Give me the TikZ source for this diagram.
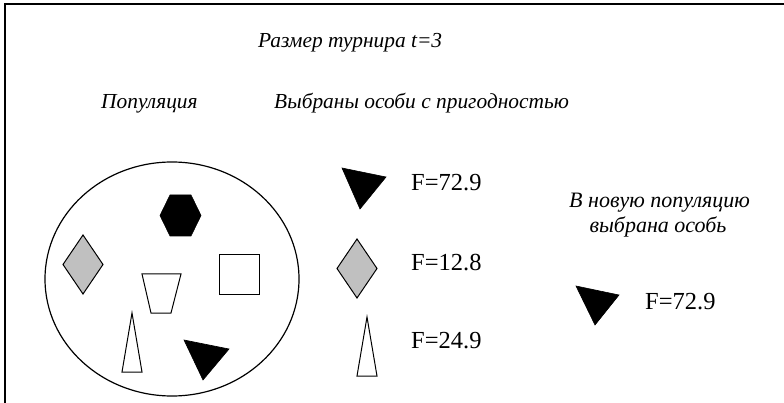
\documentclass[tikz,border=0pt]{standalone}
\usepackage{fontspec}
\setmainfont{Liberation Serif}
\definecolor{shapegray}{HTML}{C0C0C0}
\begin{document}
\begin{tikzpicture}[x=1pt,y=-1pt,
  lbl/.style={inner sep=0pt,font=\fontsize{21.4}{25}\selectfont\itshape},
  lblr/.style={inner sep=0pt,font=\fontsize{22}{25}\selectfont\itshape},
  fit/.style={inner sep=0pt,font=\fontsize{24.5}{28}\selectfont},
  outl/.style={draw=black,line width=1pt,line join=miter},
  blk/.style={fill=black,draw=black,line width=0.6pt},
  gry/.style={fill=shapegray,draw=black,line width=1pt}]
\useasboundingbox (0,0) rectangle (784,403);
% frame (top and left edges)
\draw[line width=2pt] (4.5,403) -- (4.5,4) -- (784,4);
% texts
\node[lbl,anchor=base west] (title) at (258,48) {Размер турнира \textit{t}=3};
\node[lbl,anchor=base west] (pop) at (101,108.5) {Популяция};
\node[lbl,anchor=base west] (sel) at (274,108.5) {Выбраны особи с пригодностью};
\node[lblr,anchor=base] (new1) at (659.5,208) {В новую популяцию};
\node[lblr,anchor=base] (new2) at (658,233) {выбрана особь};
\node[fit,anchor=base west] (f1) at (411,191) {F=72.9};
\node[fit,anchor=base west] (f2) at (411,270.5) {F=12.8};
\node[fit,anchor=base west] (f3) at (411,348) {F=24.9};
\node[fit,anchor=base west] (f4) at (645,309) {F=72.9};
% population ellipse
\draw[line width=1.2pt] (172,279) ellipse [x radius=127, y radius=117];
% hexagon
\draw[blk] (160,215.5) -- (170,195) -- (191,195) -- (201,215.5) -- (191,236) -- (170,236) -- cycle;
% diamond in population
\draw[gry] (83,235) -- (103,264.5) -- (83,294) -- (63,264.5) -- cycle;
% trapezoid
\draw[outl] (142,274) -- (181,274) -- (171,313) -- (151,313) -- cycle;
% square
\draw[outl] (219,255) rectangle (259,294);
% thin triangle
\draw[outl] (132,313) -- (142,372) -- (122,372) -- cycle;
% black triangle
\draw[blk] (184,340) -- (229,349) -- (203,380) -- cycle;
% selected individuals
\draw[blk] (342,168) -- (386,177) -- (360,209) -- cycle;
\draw[gry] (357,239) -- (377,268.5) -- (357,298) -- (337,268.5) -- cycle;
\draw[outl] (367,317) -- (377,376) -- (357,376) -- cycle;
% chosen individual
\draw[blk] (576,286) -- (619,295) -- (595,325) -- cycle;
\end{tikzpicture}
\end{document}
